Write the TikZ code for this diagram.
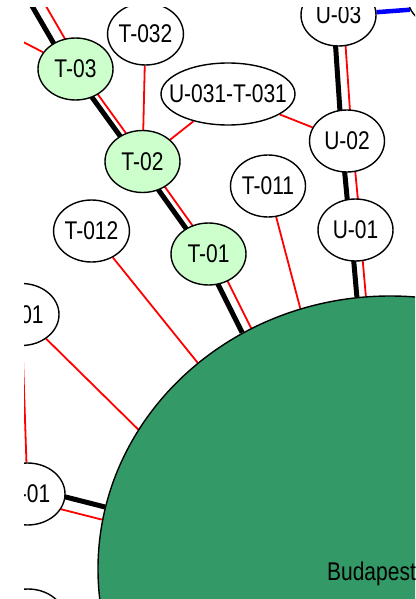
\documentclass[tikz,border=0pt]{standalone}
\usepackage{fontspec}
\usepackage{xcolor}
\usetikzlibrary{shapes.geometric,calc,backgrounds}

\newfontfamily\stationfont[FakeStretch=0.82]{Liberation Sans}
\definecolor{stopgreen}{HTML}{CCFFCC}
\definecolor{citygreen}{RGB}{51,153,102}

\tikzset{
  stop/.style={ellipse, draw, line width=1.4pt, fill=white,
    minimum width=75pt, minimum height=62pt, inner sep=0pt,
    font=\stationfont\fontsize{25.6}{26}\selectfont},
  visited/.style={stop, fill=stopgreen},
  city/.style={ellipse, draw, line width=1.4pt, fill=citygreen,
    minimum width=584pt, minimum height=546pt, inner sep=0pt},
  rail/.style={line width=5pt, black},
  link/.style={line width=1.8pt, red},
  branch/.style={line width=4.5pt, blue},
}

% black and red edge side by side; #1 = half the gap (pt)
\newcommand{\railpair}[3]{%
  \draw[rail] ($(#2)!#1pt!-90:(#3)$) -- ($(#3)!#1pt!90:(#2)$);
  \draw[link] ($(#2)!#1pt!90:(#3)$) -- ($(#3)!#1pt!-90:(#2)$);
}

\begin{document}
\begin{tikzpicture}[x=1pt, y=-1pt]
\useasboundingbox (0,0) rectangle (415,599);
\begin{scope}
\clip (24,8) rectangle (415,599);

%% T line
\node[visited] (T03) at (75.5,69) {T-03};
\node[visited] (T02) at (142.5,161.5) {T-02};
\node[visited] (T01) at (208.5,254) {T-01};
\node[stop] (T032) at (145.5,34) {T-032};
\node[stop] (T011) at (268,186) {T-011};
\node[stop] (T012) at (91.5,231) {T-012};

%% U line
\node[stop] (U03) at (338.5,15) {U-03};
\node[stop] (U04) at (445,-3) {};
\node[stop] (U02) at (347,141) {U-02};
\node[stop] (U01) at (355.5,230) {U-01};
\node[stop, minimum width=134pt, inner xsep=-14pt] (U031) at (228,94) {U-031-T-031};

%% left side
\node[stop] (S01) at (21.5,314.5) {S-01};
\node[stop] (R01) at (27.5,494) {R-01};
\node[stop] (R02) at (28,620) {};

\node[city, label={[font=\stationfont\fontsize{25.6}{26}\selectfont,
  inner sep=0pt, xshift=-18.5pt, yshift=-4.4pt]center:Budapest}]
  (bud) at (390,569) {};

\coordinate (T04) at (-22.5,-100);
\coordinate (T03w) at (-60,-1);

\begin{scope}[on background layer]
\clip (24,8) rectangle (415,599);
\railpair{6}{T04}{T03}
\draw[link] (T03w) -- (T03);
\railpair{3.2}{T03}{T02}
\railpair{3.5}{T02}{T01}
\railpair{5}{T01}{bud.121}

\draw[link] (T032) -- (T02);
\draw[link] (U031) -- (T02);
\draw[link] (U031) -- (U02);

\railpair{5}{U03}{U02}
\railpair{5.3}{U02}{U01}
\railpair{4.5}{U01}{bud.96}
\draw[branch] (U03) -- (U04.200);

\draw[link] (T011) -- (bud.109);
\draw[link] (T012) -- (bud.133);
\draw[link] (S01) -- (bud.151);
\draw[link] (S01) -- (R01);
\railpair{6.5}{bud.169}{R01}
\end{scope}
\end{scope}
\end{tikzpicture}
\end{document}
